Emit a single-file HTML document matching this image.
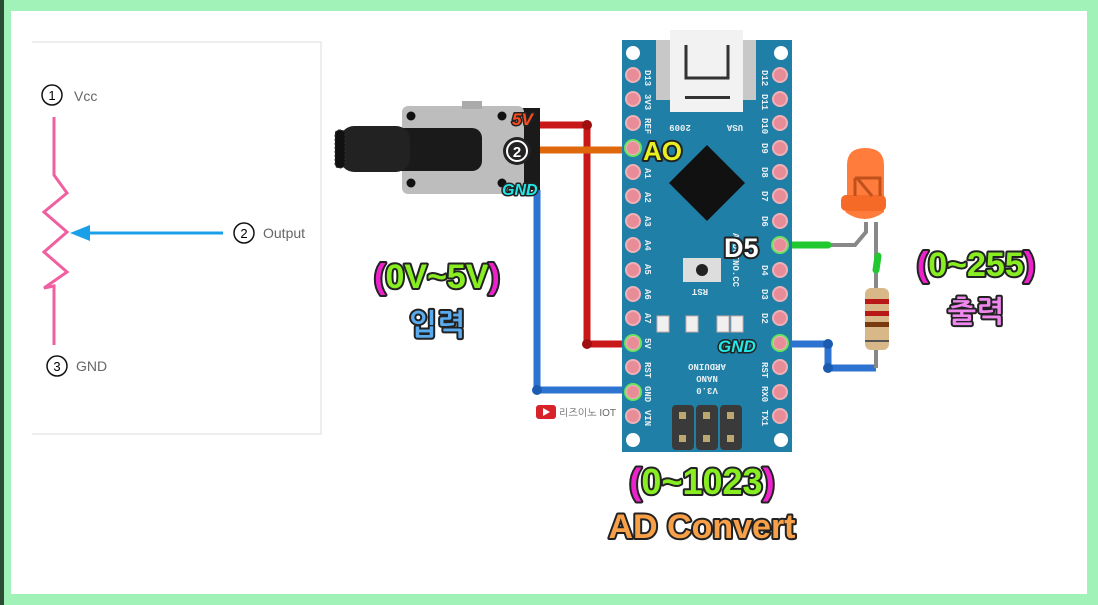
<!DOCTYPE html>
<html><head><meta charset="utf-8"><style>
body{margin:0;width:1098px;height:605px;overflow:hidden;background:#fff}
svg{display:block}
.o{paint-order:stroke;stroke:#222;stroke-linejoin:round;font-family:"Liberation Sans","NanumGothic",sans-serif;font-weight:bold}
.pl{font-family:"Liberation Mono",monospace;font-size:9px;fill:#e8f0f4;font-weight:bold}
</style></head><body>
<svg width="1098" height="605" viewBox="0 0 1098 605" xmlns="http://www.w3.org/2000/svg">
<rect x="0" y="0" width="1098" height="605" fill="#a0f2b8"/>
<rect x="0" y="0" width="4" height="605" fill="#2c4a34"/>
<rect x="11" y="11" width="1076" height="583" fill="#fff"/>
<path d="M32 42 H321 V434 H32" fill="none" stroke="#ddd"/>
<circle cx="52" cy="95" r="10" fill="none" stroke="#111" stroke-width="1.5"/><text x="52" y="100" font-size="13" text-anchor="middle" font-family="Liberation Sans">1</text>
<text x="74" y="101" font-size="14" fill="#666" font-family="Liberation Sans">Vcc</text>
<circle cx="244" cy="233" r="10" fill="none" stroke="#111" stroke-width="1.5"/><text x="244" y="238" font-size="13" text-anchor="middle" font-family="Liberation Sans">2</text>
<text x="263" y="238" font-size="14" fill="#666" font-family="Liberation Sans">Output</text>
<circle cx="57" cy="366" r="10" fill="none" stroke="#111" stroke-width="1.5"/><text x="57" y="371" font-size="13" text-anchor="middle" font-family="Liberation Sans">3</text>
<text x="76" y="371" font-size="14" fill="#666" font-family="Liberation Sans">GND</text>
<path d="M54 117 V175 L67 193 L44 212 L67 232 L44 252 L67 272 L44 288 L54 286 V345" fill="none" stroke="#f060a0" stroke-width="3"/>
<line x1="90" y1="233" x2="223" y2="233" stroke="#1aa0e8" stroke-width="3"/>
<polygon points="70,233 90,225 90,241" fill="#1aa0e8"/>
<path d="M540 125 H587 V344 H633" fill="none" stroke="#c81818" stroke-width="7" stroke-linejoin="round"/>
<circle cx="587" cy="125" r="5" fill="#a01010"/><circle cx="587" cy="344" r="5" fill="#a01010"/>
<path d="M535 150 H633" stroke="#e0680c" stroke-width="7"/>
<path d="M537 190 V390 H633" fill="none" stroke="#2c74d0" stroke-width="7" stroke-linejoin="round"/>
<circle cx="537" cy="390" r="5" fill="#1c5cb0"/>
<path d="M780 344 H828 V368 H876" fill="none" stroke="#2c74d0" stroke-width="7" stroke-linejoin="round"/>
<circle cx="828" cy="344" r="5" fill="#1c5cb0"/><circle cx="828" cy="368" r="5" fill="#1c5cb0"/>
<path d="M828 245 H855 L866 232 V222" fill="none" stroke="#888" stroke-width="4"/>
<path d="M876 222 V368" fill="none" stroke="#888" stroke-width="4"/>
<path d="M780 245 H828" stroke="#22c830" stroke-width="7" stroke-linecap="round"/>
<path d="M878 256 L876 270" stroke="#22c830" stroke-width="7" stroke-linecap="round"/>
<path d="M847 210 V165 Q847 148 865 148 Q884 148 884 165 V212 Q865 226 845 212 Z" fill="#ff7c3c"/>
<rect x="841" y="195" width="45" height="16" rx="5" fill="#f66a28"/>
<path d="M855 178 V196 M855 178 H880 V196 M857 178 L872 196" stroke="#c0501c" stroke-width="3" fill="none"/>
<rect x="865" y="288" width="24" height="62" rx="6" fill="#d8b888"/>
<rect x="865" y="299" width="24" height="5" fill="#b81818"/>
<rect x="865" y="311" width="24" height="5" fill="#b81818"/>
<rect x="865" y="322" width="24" height="5" fill="#7a3a10"/>
<rect x="865" y="340" width="24" height="2" fill="#555"/>
<rect x="520" y="108" width="20" height="82" fill="#1a1a1a"/>
<rect x="402" y="106" width="122" height="88" rx="6" fill="#bdbdbd"/>
<rect x="462" y="101" width="20" height="8" fill="#aaa"/>
<circle cx="411" cy="116" r="4.5" fill="#111"/><circle cx="502" cy="116" r="4.5" fill="#111"/>
<circle cx="411" cy="183" r="4.5" fill="#111"/><circle cx="502" cy="183" r="4.5" fill="#111"/>
<rect x="376" y="128" width="106" height="43" rx="10" fill="#1a1a1a"/>
<rect x="340" y="126" width="70" height="46" rx="14" fill="#222"/>
<rect x="335" y="130" width="10" height="38" rx="4" fill="#111" stroke="#333" stroke-dasharray="2 2"/>
<rect x="622" y="40" width="170" height="412" fill="#1f7fa6"/>
<rect x="656" y="40" width="100" height="60" fill="#c8c8c8"/>
<rect x="670" y="30" width="73" height="82" fill="#f2f2f2"/>
<path d="M686 45 V78 H728 V45" fill="none" stroke="#333" stroke-width="3"/>
<rect x="685" y="96" width="45" height="3" fill="#333"/>
<g fill="#fff"><circle cx="633" cy="53" r="7"/><circle cx="781" cy="53" r="7"/><circle cx="633" cy="440" r="7"/><circle cx="781" cy="440" r="7"/></g>
<polygon points="707,145 745,183 707,221 669,183" fill="#111"/>
<rect x="683" y="258" width="38" height="24" fill="#ddd"/><circle cx="702" cy="270" r="6" fill="#222"/>
<g fill="#f0f0f0" stroke="#caa" stroke-width="1"><rect x="686" y="316" width="12" height="16"/><rect x="717" y="316" width="12" height="16"/><rect x="731" y="316" width="12" height="16"/><rect x="657" y="316" width="12" height="16"/></g>
<g fill="#3a3a3a"><rect x="672" y="405" width="22" height="45" rx="4"/><rect x="696" y="405" width="22" height="45" rx="4"/><rect x="720" y="405" width="22" height="45" rx="4"/></g>
<g fill="#bba870"><rect x="679" y="412" width="7" height="7"/><rect x="703" y="412" width="7" height="7"/><rect x="727" y="412" width="7" height="7"/><rect x="679" y="435" width="7" height="7"/><rect x="703" y="435" width="7" height="7"/><rect x="727" y="435" width="7" height="7"/></g>
<g fill="#e88c98" stroke="#f0b0b8" stroke-width="2">
<circle cx="633" cy="75" r="7"/><circle cx="633" cy="99" r="7"/><circle cx="633" cy="123" r="7"/><circle cx="633" cy="148" r="7"/><circle cx="633" cy="172" r="7"/><circle cx="633" cy="196" r="7"/><circle cx="633" cy="221" r="7"/><circle cx="633" cy="245" r="7"/><circle cx="633" cy="270" r="7"/><circle cx="633" cy="294" r="7"/><circle cx="633" cy="318" r="7"/><circle cx="633" cy="343" r="7"/><circle cx="633" cy="367" r="7"/><circle cx="633" cy="392" r="7"/><circle cx="633" cy="416" r="7"/>
<circle cx="780" cy="75" r="7"/><circle cx="780" cy="99" r="7"/><circle cx="780" cy="123" r="7"/><circle cx="780" cy="148" r="7"/><circle cx="780" cy="172" r="7"/><circle cx="780" cy="196" r="7"/><circle cx="780" cy="221" r="7"/><circle cx="780" cy="245" r="7"/><circle cx="780" cy="270" r="7"/><circle cx="780" cy="294" r="7"/><circle cx="780" cy="318" r="7"/><circle cx="780" cy="343" r="7"/><circle cx="780" cy="367" r="7"/><circle cx="780" cy="392" r="7"/><circle cx="780" cy="416" r="7"/>
</g>
<g fill="none" stroke="#6ce060" stroke-width="2"><circle cx="633" cy="148" r="8"/><circle cx="633" cy="343" r="8"/><circle cx="633" cy="392" r="8"/><circle cx="780" cy="245" r="8"/><circle cx="780" cy="343" r="8"/></g>
<g class="pl">
<text transform="translate(645,70) rotate(90)">D13</text><text transform="translate(645,94) rotate(90)">3V3</text><text transform="translate(645,118) rotate(90)">REF</text>
<text transform="translate(645,192) rotate(90)">A2</text><text transform="translate(645,216) rotate(90)">A3</text><text transform="translate(645,240) rotate(90)">A4</text><text transform="translate(645,264) rotate(90)">A5</text><text transform="translate(645,289) rotate(90)">A6</text><text transform="translate(645,313) rotate(90)">A7</text><text transform="translate(645,338) rotate(90)">5V</text><text transform="translate(645,362) rotate(90)">RST</text><text transform="translate(645,386) rotate(90)">GND</text><text transform="translate(645,410) rotate(90)">VIN</text><text transform="translate(645,168) rotate(90)">A1</text>
<text transform="translate(762,70) rotate(90)">D12</text><text transform="translate(762,94) rotate(90)">D11</text><text transform="translate(762,118) rotate(90)">D10</text><text transform="translate(762,143) rotate(90)">D9</text><text transform="translate(762,167) rotate(90)">D8</text><text transform="translate(762,191) rotate(90)">D7</text><text transform="translate(762,216) rotate(90)">D6</text><text transform="translate(762,265) rotate(90)">D4</text><text transform="translate(762,289) rotate(90)">D3</text><text transform="translate(762,313) rotate(90)">D2</text><text transform="translate(762,362) rotate(90)">RST</text><text transform="translate(762,386) rotate(90)">RX0</text><text transform="translate(762,410) rotate(90)">TX1</text>
<text transform="translate(733,233) rotate(90)">ARDUINO.CC</text>
</g>
<g class="pl" transform="rotate(180 707 380)"><text x="707" y="372" text-anchor="middle">V3.0</text><text x="707" y="384" text-anchor="middle">NANO</text><text x="707" y="396" text-anchor="middle">ARDUINO</text></g>
<g class="pl"><text transform="rotate(180 700 292)" x="700" y="295" text-anchor="middle">RST</text><text transform="rotate(180 680 128)" x="680" y="131" text-anchor="middle">2009</text><text transform="rotate(180 735 128)" x="735" y="131" text-anchor="middle">USA</text></g>
<rect x="536" y="405" width="20" height="14" rx="3" fill="#d8222a"/><polygon points="543,408 543,416 550,412" fill="#fff"/>
<text x="559" y="416" font-size="10" fill="#666" font-family="Liberation Sans,NanumGothic,sans-serif">리즈이노 IOT</text>
<text x="512" y="125" class="o" font-size="17" fill="#ff4a1a" stroke-width="3" font-style="italic">5V</text>
<circle cx="517" cy="151" r="14" fill="#222"/><circle cx="517" cy="151" r="10" fill="none" stroke="#fff" stroke-width="2"/>
<text x="517" y="157" font-size="15" font-weight="bold" fill="#fff" text-anchor="middle" font-family="Liberation Sans">2</text>
<text x="502" y="195" class="o" font-size="16" fill="#22e8e8" stroke-width="3" font-style="italic">GND</text>
<text x="643" y="160" class="o" font-size="26" fill="#e8f020" stroke-width="4">AO</text>
<text x="724" y="257" class="o" font-size="27" fill="#fff" stroke-width="4">D5</text>
<text x="718" y="352" class="o" font-size="17" fill="#22e8e8" stroke-width="3" font-style="italic">GND</text>
<text x="437" y="288" class="o" font-size="34" fill="#88ee22" stroke-width="4" text-anchor="middle"><tspan fill="#ee22cc">(</tspan>0V~5V<tspan fill="#ee22cc">)</tspan></text>
<text x="437" y="335" class="o" font-size="30" fill="#5aaaee" stroke-width="4" text-anchor="middle">입력</text>
<text x="976" y="276" class="o" font-size="34" fill="#88ee22" stroke-width="4" text-anchor="middle"><tspan fill="#ee22cc">(</tspan>0~255<tspan fill="#ee22cc">)</tspan></text>
<text x="976" y="322" class="o" font-size="30" fill="#ee88ee" stroke-width="4" text-anchor="middle">출력</text>
<text x="702" y="494" class="o" font-size="36" fill="#88ee22" stroke-width="4" text-anchor="middle"><tspan fill="#ee22cc">(</tspan>0~1023<tspan fill="#ee22cc">)</tspan></text>
<text x="702" y="538" class="o" font-size="34" fill="#f8a048" stroke-width="4" text-anchor="middle">AD Convert</text>
</svg>
</body></html>
